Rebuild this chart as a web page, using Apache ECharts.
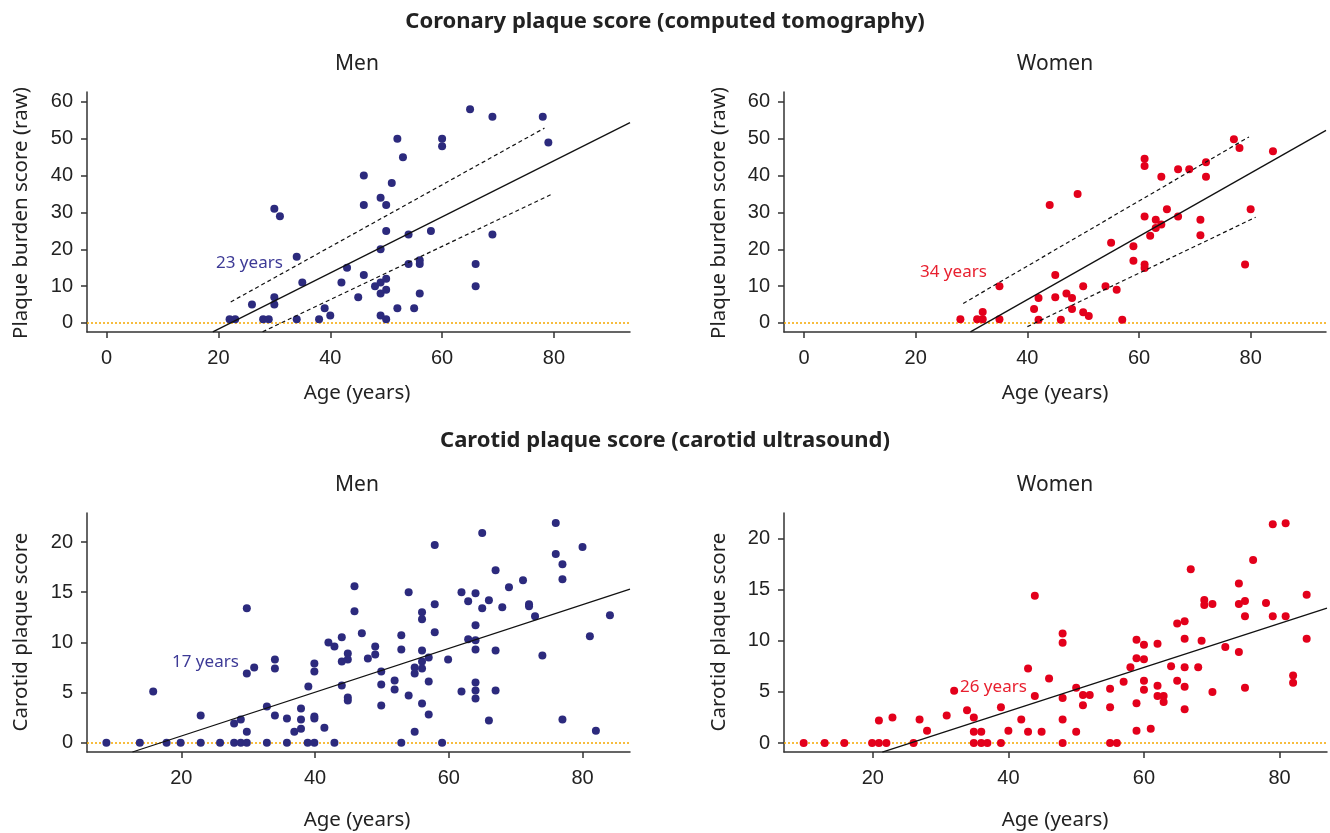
<!DOCTYPE html>
<html>
<head>
<meta charset="utf-8">
<script src="https://cdn.jsdelivr.net/npm/echarts@6/dist/echarts.min.js"></script>
<style>
html,body{margin:0;padding:0;background:#fff;}
#chart{width:1330px;height:833px;}
</style>
</head>
<body>
<div id="chart"></div>
<script>
// ---------- data (age, score) ----------
const coronaryMen = [
 [22,1],[23,1],[26,5],[28,1],[29,1],[30,7],[30,5],[30,31],[31,29],[34,18],[34,1],[35,11],
 [38,1],[39,4],[40,2],[42,11],[43,15],[45,7],[46,13],[46,32],[46,40],[48,10],[49,11],[49,8],
 [49,20],[49,34],[49,2],[50,12],[50,9],[50,1],[50,25],[50,32],[51,38],[52,4],[52,50],[53,45],
 [54,24],[54,16],[55,4],[56,8],[56,16],[56,17],[58,25],[60,50],[60,48],[65,58],[66,16],[66,10],
 [69,56],[69,24],[78,56],[79,49]
];
const coronaryWomen = [
 [28,1],[31,1],[32,1],[32,3],[35,10],[35,1],[41.2,3.8],[42,6.8],[42,0.9],[44,32],[45,13],[45,7],
 [46,0.9],[47,8],[48,6.8],[48,3.8],[49,35],[50,10],[50,2.9],[51,1.9],[54,10],[55,21.8],[56,9],
 [57,0.9],[59,20.8],[59,16.9],[61,15.9],[61,14.9],[61,28.9],[61,44.6],[61,42.6],[62,23.7],
 [63,28],[63,25.8],[64,26.7],[64,39.7],[65,30.9],[67,28.9],[67,41.7],[69,41.7],[71,28],[71,23.8],
 [72,43.6],[72,39.7],[77,49.9],[78,47.5],[79,15.9],[80,30.9],[84,46.6]
];
const carotidMen = [
 [8.8,0],[13.8,0],[17.8,0],[19.9,0],[22.9,0],[25.8,0],[27.9,0],[28.9,0],[29.8,0],[32.8,0],[35.8,0],
 [38.9,0],[39.9,0],[42.9,0],[52.9,0],[59,0],
 [15.8,5.1],[22.9,2.7],[27.9,1.9],[28.9,2.3],[29.8,1.1],[29.8,6.9],[29.8,13.4],[30.9,7.5],[32.8,3.6],
 [34,2.7],[34,8.3],[34,7.4],[35.8,2.4],[36.9,1.1],[37.9,3.4],[37.9,2.3],[37.9,1.4],[39,5.6],
 [39.9,2.6],[39.9,2.4],[39.9,7.9],[39.9,7.1],[41.4,1.5],[42,10],[42.9,9.6],[44,10.5],[44,8.1],
 [44,5.7],[44.9,8.9],[44.9,8.3],[44.9,4.5],[44.9,4.2],[45.9,15.6],[45.9,13.1],[47,10.9],[47.9,8.4],
 [49,9.6],[49,8.8],[49.9,7.1],[49.9,5.8],[49.9,3.7],[51.9,6.2],[51.9,5.3],[52.9,10.7],[52.9,9.3],
 [54,15],[54,4.7],[54.9,7.5],[54.9,6.9],[54.9,1.1],[56,13],[56,12.3],[56,9.2],[56,8.1],[56,7.4],
 [56,3.9],[57,8.5],[57,6.1],[57,2.8],[57.9,19.7],[57.9,13.8],[57.9,11],[59.9,8.3],[61.9,15],
 [61.9,5.1],[62.9,14.1],[62.9,10.3],[64,14.9],[64,11.7],[64,10.2],[64,9.3],[64,6],[64,5.2],[64,4.4],
 [65,20.9],[65,13.4],[66,14.2],[66,2.2],[67,17.2],[67,9.2],[67,5.2],[68,13.5],[69,15.5],[71.1,16.2],
 [72,13.8],[72,13.6],[72.9,12.6],[74,8.7],[76,21.9],[76,18.8],[77,17.8],[77,16.3],[77,2.3],
 [80,19.5],[81.1,10.6],[82,1.2],[84.1,12.7]
];
const carotidWomen = [
 [9.8,0],[12.9,0],[15.8,0],[19.9,0],[20.9,0],[22,0],[26,0],[34.9,0],[36,0],[36.9,0],[38.9,0],
 [48,0],[55,0],[56,0],
 [20.9,2.2],[22.9,2.5],[26.9,2.3],[28,1.2],[30.9,2.7],[32,5.1],[33.9,3.2],[34.9,2.5],[34.9,1.1],
 [36,1.1],[38.9,3.5],[40,1.2],[41.9,2.3],[42.9,7.3],[42.9,1.1],[43.9,14.4],[43.9,4.6],[44.9,1.1],
 [46,6.3],[48,10.7],[48,9.8],[48,4.4],[48,2.3],[50,5.4],[50,1.1],[51,4.7],[52,4.7],[51,3.7],
 [55,5.3],[55,3.5],[57,6],[58,7.4],[58.9,10.1],[58.9,8.3],[58.9,3.9],[58.9,1.2],[60,9.6],[60,8.2],
 [60,6.1],[60,5.2],[61,1.4],[62,9.7],[62,5.6],[62,4.6],[62.9,4.6],[62.9,4],[64,7.5],[64.9,11.7],
 [64.9,6.1],[66,11.9],[66,10.2],[66,7.4],[66,5.5],[66,3.3],[66.9,17],[68,7.4],[68.5,10],[68.9,14],
 [68.9,13.5],[70.1,13.6],[70.1,5],[72,9.4],[74,15.6],[74,13.6],[74,8.9],[74.9,13.9],[74.9,12.4],
 [74.9,5.4],[76.1,17.9],[78,13.7],[79,21.4],[79,12.4],[80.9,21.5],[80.9,12.4],[82,6.6],[82,5.9],
 [84,14.5],[84,10.2]
];
// regression lines and limits (end points)
const coronaryMenFit   = [[19.0,-2.4],[93.6,54.4]];
const coronaryMenUpper = [[22.2,5.7],[78.3,52.9]];
const coronaryMenLower = [[27.9,-2.4],[79.4,34.8]];
const coronaryWomenFit   = [[29.8,-2.4],[93.5,52.3]];
const coronaryWomenUpper = [[28.5,5.3],[79.7,50.5]];
const coronaryWomenLower = [[40.0,-1.0],[80.9,28.7]];
const carotidMenFit   = [[12.7,-0.93],[87.1,15.3]];
const carotidWomenFit = [[21.4,-0.9],[87.0,13.2]];
// tick labels
const coronaryXTicks = [0,20,40,60,80];
const coronaryYTicks = [0,10,20,30,40,50,60];
const carotidXTicks = [20,40,60,80];
const carotidYTicks = [0,5,10,15,20];

const MEN = '#2c2a7d', WOMEN = '#e3001b';
const chart = echarts.init(document.getElementById('chart'));

const grids = [
  {left:87, top:92, width:543, height:240},
  {left:784, top:92, width:542, height:240},
  {left:87, top:513, width:543, height:239},
  {left:784, top:513, width:543, height:239}
];
const ranges = [
  {x:[-3.5,93.6], y:[-2.45,62.7], xt:coronaryXTicks, yt:coronaryYTicks},
  {x:[-3.6,93.5], y:[-2.45,62.7], xt:coronaryXTicks, yt:coronaryYTicks},
  {x:[5.9,87.1], y:[-0.93,22.9], xt:carotidXTicks, yt:carotidYTicks},
  {x:[6.9,87.0], y:[-0.88,22.5], xt:carotidXTicks, yt:carotidYTicks}
];
const axisLine = {show:true, onZero:false, lineStyle:{color:'#333', width:1.5}};
const labelFont = {color:'#222', fontSize:20, fontFamily:'Liberation Sans'};

const xAxis = ranges.map((r,i)=>({
  type:'value', gridIndex:i, min:r.x[0], max:r.x[1],
  axisLine, splitLine:{show:false},
  axisTick:{show:true, customValues:r.xt, length:6, lineStyle:{color:'#333', width:1.5}},
  axisLabel:Object.assign({customValues:r.xt, margin:16}, labelFont)
}));
const yAxis = ranges.map((r,i)=>({
  type:'value', gridIndex:i, min:r.y[0], max:r.y[1],
  axisLine, splitLine:{show:false},
  axisTick:{show:true, customValues:r.yt, length:6, lineStyle:{color:'#333', width:1.5}},
  axisLabel:Object.assign({customValues:r.yt, margin:14}, labelFont)
}));

function scatter(i, data, color){
  return {
    type:'scatter', xAxisIndex:i, yAxisIndex:i, data, symbolSize:8,
    itemStyle:{color, opacity:1}, z:3,
    markLine:{silent:true, symbol:'none', label:{show:false},
      lineStyle:{color:'#f5a800', type:[2,2], width:1.5},
      data:[{yAxis:0}], z:1}
  };
}
function line(i, data, dashed){
  return {
    type:'line', xAxisIndex:i, yAxisIndex:i, data, symbol:'none', clip:true,
    lineStyle:{color:'#111', width:dashed?1.2:1.3, type:dashed?[4,3]:'solid'}, z:4
  };
}

const series = [
  scatter(0, coronaryMen, MEN),
  line(0, coronaryMenFit,false), line(0, coronaryMenUpper,true), line(0, coronaryMenLower,true),
  scatter(1, coronaryWomen, WOMEN),
  line(1, coronaryWomenFit,false), line(1, coronaryWomenUpper,true), line(1, coronaryWomenLower,true),
  scatter(2, carotidMen, MEN),
  line(2, carotidMenFit,false),
  scatter(3, carotidWomen, WOMEN),
  line(3, carotidWomenFit,false)
];

function txt(x,y,text,opts,rot){
  const o = {type:'text', x, y, style:Object.assign({text, fill:'#222', fontSize:21,
    fontFamily:'Noto Sans', align:'center', verticalAlign:'middle'}, opts||{})};
  if (rot) o.rotation = rot;
  return o;
}
const R = Math.PI/2;
const graphic = [
  txt(665,22,'Coronary plaque score (computed tomography)',{fontWeight:'bold', fontSize:22}),
  txt(357,64,'Men'), txt(1055,64,'Women'),
  txt(665,441,'Carotid plaque score (carotid ultrasound)',{fontWeight:'bold', fontSize:22}),
  txt(357,485,'Men'), txt(1055,485,'Women'),
  txt(357,393,'Age (years)',{fontSize:20.5}), txt(1055,393,'Age (years)',{fontSize:20.5}),
  txt(357,820,'Age (years)',{fontSize:20.5}), txt(1055,820,'Age (years)',{fontSize:20.5}),
  txt(21,213,'Plaque burden score (raw)',{fontSize:20.5},R),
  txt(719,213,'Plaque burden score (raw)',{fontSize:20.5},R),
  txt(21,632,'Carotid plaque score',{fontSize:20.5},R),
  txt(719,632,'Carotid plaque score',{fontSize:20.5},R),
  txt(216,263,'23 years',{fill:'#3d3a96', fontSize:17, align:'left'}),
  txt(920,272,'34 years',{fill:'#e8202f', fontSize:17, align:'left'}),
  txt(172,662,'17 years',{fill:'#3d3a96', fontSize:17, align:'left'}),
  txt(960,687,'26 years',{fill:'#e8202f', fontSize:17, align:'left'})
];

chart.setOption({
  animation:false,
  backgroundColor:'#fff',
  grid:grids, xAxis, yAxis, series, graphic
});
</script>
</body>
</html>
